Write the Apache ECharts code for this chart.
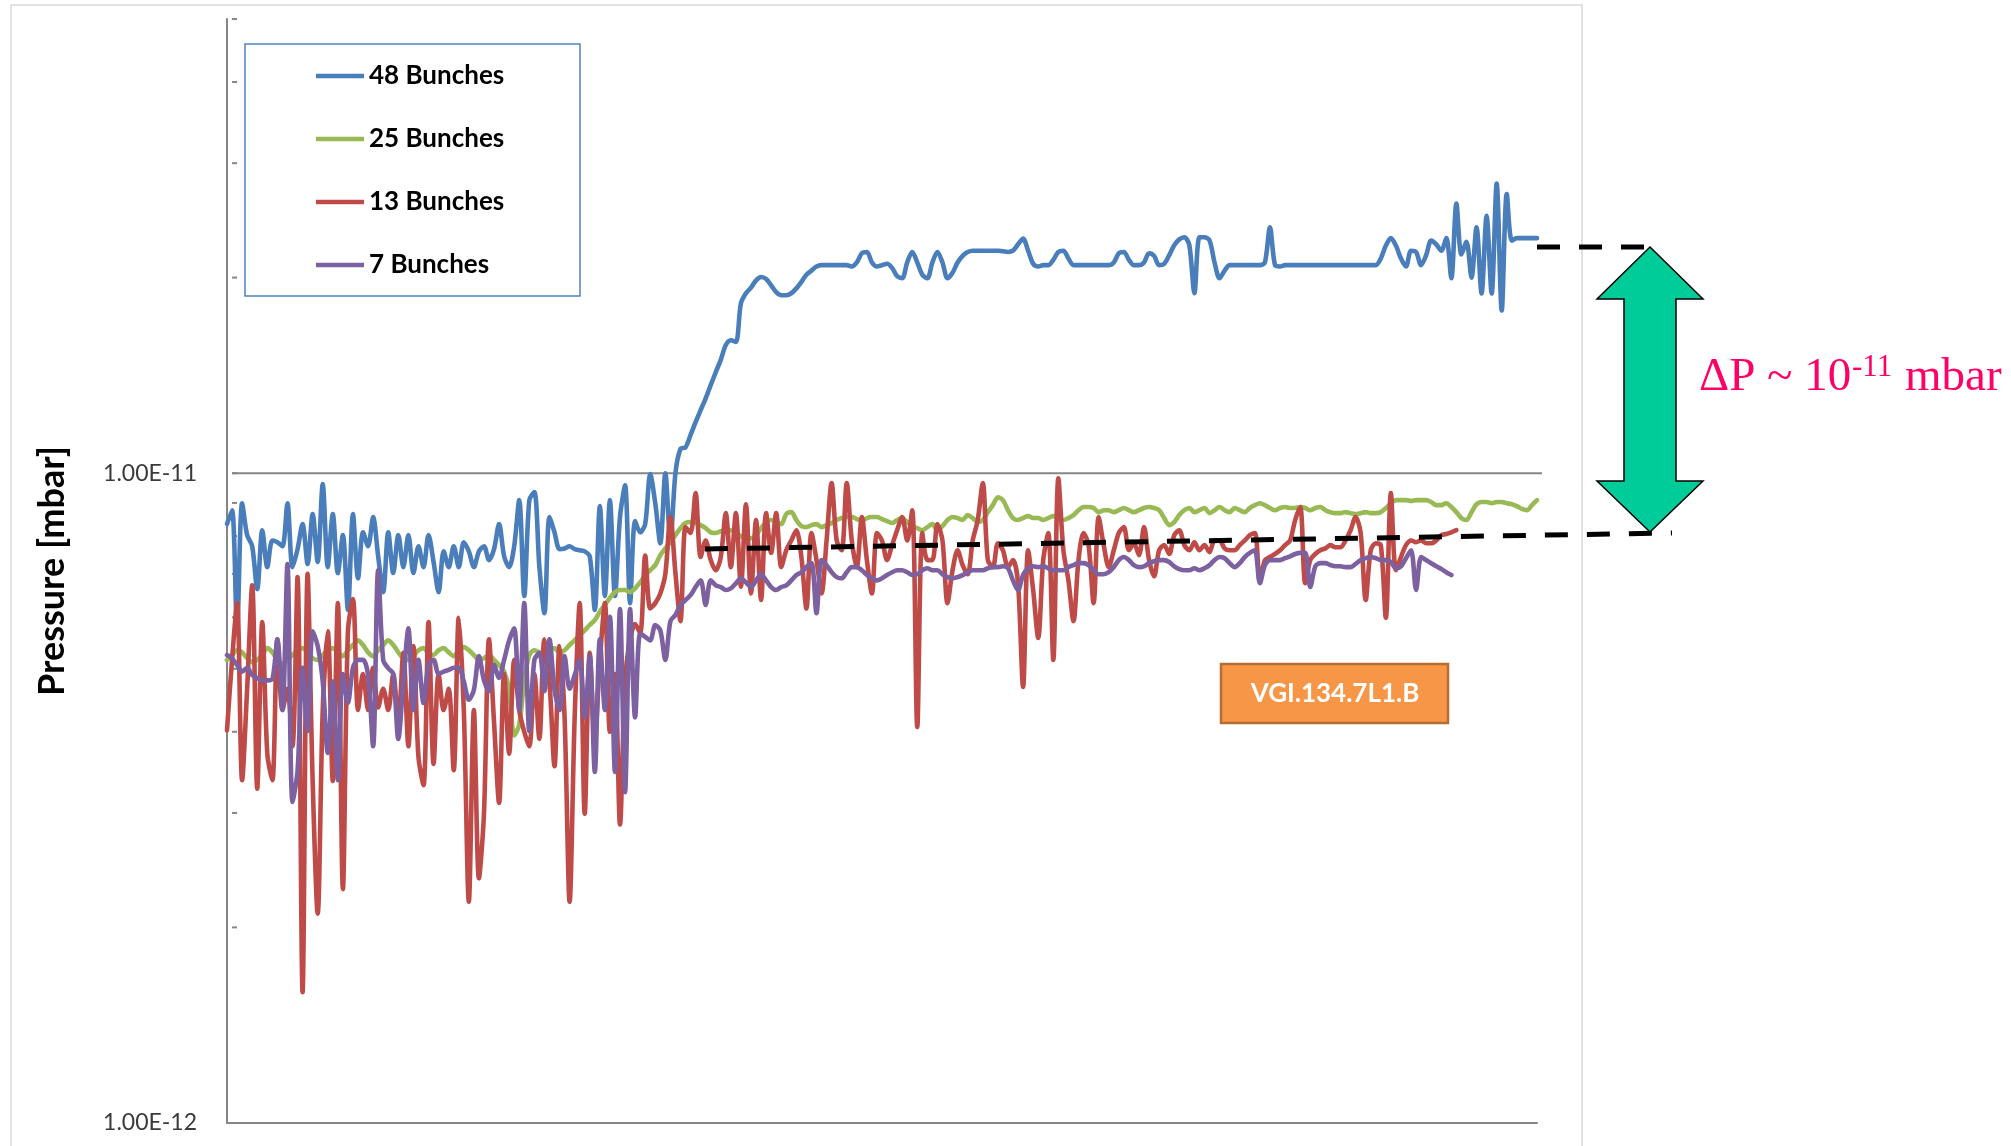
<!DOCTYPE html>
<html>
<head>
<meta charset="utf-8">
<script src="https://cdn.jsdelivr.net/npm/echarts@6/dist/echarts.min.js"></script>
<style>
  html, body { margin: 0; padding: 0; background: #ffffff; }
  #chart { width: 2011px; height: 1146px; }
</style>
</head>
<body>
<div id="chart"></div>
<script>
// Gauge VGI.134.7L1.B pressure readings, in units of 1e-12 mbar.
const seriesNames = ['48 Bunches', '25 Bunches', '13 Bunches', '7 Bunches'];
const seriesColors = ['#4A7EBB', '#98B954', '#BE4B48', '#7D60A0'];

const bunches48 = [
  8.35, 8.77, 5.75, 8.99, 8.03, 7.72, 6.63, 8.17, 7.17, 7.88,
  7.83, 7.72, 8.99, 7.17, 7.64, 8.35, 7.25, 8.65, 7.30, 9.62,
  7.17, 8.65, 7.02, 8.03, 6.16, 8.65, 6.89, 8.11, 7.72, 8.56,
  7.45, 6.56, 8.11, 7.02, 8.03, 7.17, 8.03, 7.02, 7.72, 7.17,
  8.03, 7.30, 6.56, 7.58, 7.17, 7.72, 7.17, 7.83, 7.58, 7.17,
  7.58, 7.72, 7.35, 7.64, 8.35, 7.45, 7.17, 7.72, 9.09, 6.47,
  9.09, 9.35, 7.17, 6.09, 8.56, 8.11, 7.64, 7.66, 7.72, 7.64,
  7.61, 7.58, 7.45, 6.16, 8.90, 6.47, 9.09, 6.47, 8.56, 9.58,
  6.31, 8.44, 8.11, 8.35, 9.97, 8.99, 7.80, 10.0, 7.88, 10.0,
  10.9, 10.96, 11.45, 11.98, 12.5, 13.04, 13.66, 14.3, 14.94, 15.75,
  16.02, 15.92, 18.26, 18.92, 19.3, 19.8, 20.04, 19.9, 19.46, 19.0,
  18.79, 18.79, 18.92, 19.25, 19.7, 20.2, 20.5, 20.8, 20.9, 20.9,
  20.9, 20.9, 20.9, 20.9, 20.8, 21.1, 21.8, 21.9, 21.1, 20.8,
  20.9, 21.0, 20.7, 20.1, 19.95, 21.1, 21.9, 21.1, 20.2, 19.95,
  21.1, 21.9, 21.1, 19.95, 20.35, 21.1, 21.6, 21.9, 22.0, 22.0,
  22.0, 22.0, 22.0, 22.0, 21.95, 21.9, 22.0, 22.5, 22.96, 22.0,
  21.0, 20.8, 20.9, 20.9, 21.3, 21.9, 22.0, 21.4, 20.9, 20.9,
  20.9, 20.9, 20.9, 20.9, 20.9, 20.9, 21.1, 21.8, 21.9, 21.3,
  20.9, 20.9, 21.1, 21.8, 21.6, 20.9, 21.0, 21.65, 22.43, 22.9,
  23.07, 22.43, 18.92, 23.07, 23.07, 22.83, 21.1, 19.95, 20.5, 20.9,
  20.9, 20.9, 20.9, 20.9, 20.9, 20.9, 21.1, 23.9, 20.9, 20.8,
  20.9, 20.9, 20.9, 20.9, 20.9, 20.9, 20.9, 20.9, 20.9, 20.9,
  20.9, 20.9, 20.9, 20.9, 20.9, 20.9, 20.9, 20.9, 20.9,
  21.4, 22.4, 23.0, 22.4, 21.4, 20.8, 22.0, 21.9, 20.9, 21.65, 22.8,
  22.5, 22.0, 23.0, 19.95, 26.0, 21.7, 22.7, 20.0, 23.9, 18.9,
  24.9, 18.9, 27.9, 17.8, 26.9, 22.8, 23.0, 23.0, 23.0, 23.0, 23.0
];

const bunches25 = [
  5.16, 5.25, 5.34, 5.30, 5.19, 5.12,
  5.16, 5.25, 5.38, 5.30, 5.16, 5.09, 5.16,
  5.25, 5.34, 5.38, 5.30, 5.19, 5.16, 5.25, 5.34,
  5.38, 5.30, 5.23, 5.34, 5.44, 5.53, 5.44,
  5.30, 5.23, 5.34, 5.44, 5.53, 5.44, 5.30, 5.19,
  5.16, 5.23, 5.34, 5.38, 5.28, 5.25, 5.34, 5.38, 5.30, 5.23,
  5.34, 5.40, 5.34, 5.25, 5.16, 5.19, 5.25, 5.16, 5.07, 4.95,
  4.64, 3.95, 4.10, 4.80, 5.25,
  5.34, 5.30, 5.25, 5.34, 5.38, 5.30, 5.34, 5.44, 5.53, 5.63,
  5.73, 5.84, 5.94, 6.12, 6.27, 6.43, 6.56, 6.61, 6.61, 6.56,
  6.65, 6.79, 6.97, 7.09, 7.22, 7.48, 7.66, 7.83, 8.03, 8.23,
  8.38, 8.41, 8.38, 8.32, 8.23, 8.11, 8.09, 8.14, 8.17, 8.17,
  8.09, 8.00, 7.94, 7.94, 8.03, 8.23, 8.41, 8.47, 8.41, 8.35,
  8.65, 8.71, 8.47, 8.29, 8.26, 8.32, 8.35, 8.26, 8.32, 8.38,
  8.47, 8.53, 8.56, 8.56, 8.50, 8.44, 8.53, 8.56, 8.56, 8.50,
  8.44, 8.38, 8.47, 8.53, 8.41, 8.29, 8.23, 8.17, 8.26, 8.35,
  8.17, 8.29, 8.47, 8.56, 8.53, 8.47, 8.62, 8.53, 8.41, 8.47,
  8.71, 8.93, 9.18, 9.09, 8.77, 8.53, 8.47, 8.53, 8.59, 8.53,
  8.53, 8.47, 8.53, 8.59, 8.53, 8.47, 8.53, 8.62, 8.77, 8.87,
  8.87, 8.84, 8.71, 8.77, 8.77, 8.71, 8.77, 8.84, 8.77, 8.71,
  8.77, 8.84, 8.87, 8.84, 8.77, 8.53, 8.32, 8.41, 8.62, 8.77,
  8.84, 8.71, 8.77, 8.84, 8.68, 8.77, 8.87, 8.77, 8.71, 8.84,
  8.77, 8.71, 8.84, 8.93, 8.99, 8.93, 8.84, 8.77, 8.84, 8.87,
  8.84, 8.84, 8.87, 8.84, 8.77, 8.84, 8.87, 8.77, 8.71, 8.68,
  8.68, 8.71, 8.68, 8.65, 8.68, 8.71, 8.68, 8.68, 8.71, 8.84,
  8.99, 9.09, 9.09, 9.09, 9.06, 9.09, 9.09, 9.09, 9.03, 8.93,
  8.93, 8.99, 8.87, 8.71, 8.53, 8.47, 8.71, 8.96, 9.03, 9.03,
  8.99, 9.03, 9.03, 8.99, 8.96, 8.90, 8.81, 8.77, 8.93, 9.09
];

const bunches13 = [
  4.02, 5.16, 6.31, 3.37, 4.66, 6.72, 3.27, 5.90, 3.70, 3.37,
  5.55, 4.32, 4.66, 3.80, 6.92, 1.59, 7.00, 3.36, 2.10, 4.32,
  5.71, 3.36, 6.31, 2.29, 5.71, 6.40, 4.32, 4.91, 4.32, 5.02,
  4.36, 4.66, 4.32, 4.91, 4.14, 5.29, 3.80, 5.42, 3.66, 3.31,
  5.90, 3.57, 4.91, 4.32, 4.66, 3.49, 5.99, 4.32, 2.19, 4.32,
  2.38, 2.99, 5.55, 4.14, 3.11, 4.91, 3.70, 5.16, 4.32, 4.00,
  3.80, 4.91, 3.90, 5.55, 4.78, 3.54, 5.42, 4.21, 2.19, 4.21,
  6.31, 2.99, 5.29, 3.90, 5.16, 6.31, 4.00, 4.91, 2.88, 4.78,
  5.55, 5.86, 5.67, 7.47, 6.19, 6.31, 6.53, 7.00, 8.56, 7.02,
  5.92, 8.26, 8.09, 9.32, 7.43, 7.88, 7.35, 7.09, 7.43, 8.68,
  7.17, 8.68, 6.69, 8.96, 6.53, 8.47, 6.38, 8.68, 7.54, 8.68,
  7.17, 7.61, 7.88, 8.17, 7.43, 6.19, 8.09, 7.35, 6.53, 7.88,
  9.66, 7.88, 7.61, 9.66, 7.88, 7.17, 8.56, 7.35, 6.53, 8.09,
  7.88, 7.35, 7.75, 8.17, 8.56, 7.88, 8.77, 4.07, 8.09, 7.35,
  7.35, 8.35, 7.88, 6.31, 7.09, 7.61, 7.22, 6.99, 7.88, 8.47,
  9.66, 7.35, 7.17, 7.80, 7.61, 7.17, 7.35, 6.77, 4.69, 7.61,
  6.61, 5.58, 7.35, 8.09, 5.16, 9.82, 7.61, 6.84, 5.92, 7.35,
  8.09, 7.75, 6.31, 8.56, 7.75, 7.17, 7.61, 8.09, 8.26, 7.61,
  7.80, 7.48, 8.26, 7.35, 6.94, 7.61, 7.75, 7.51, 8.03, 8.17,
  7.75, 7.61, 7.83, 7.61, 7.75, 7.56, 7.88, 7.88, 7.66, 7.61,
  7.61, 7.75, 7.88, 8.03, 8.09, 6.84, 7.35, 7.43, 7.51, 7.61,
  7.75, 7.88, 8.47, 8.87, 6.77, 7.35, 7.51, 7.61, 7.66, 7.75,
  7.69, 7.69, 7.88, 8.17, 8.56, 8.09, 6.38, 7.61, 7.80, 7.75,
  5.99, 9.32, 7.09, 7.43, 7.75, 7.88, 7.83, 7.88, 7.80, 7.80,
  7.88, 8.03, 8.06, 8.11, 8.17
];

const bunches7 = [
  5.25, 5.19, 5.07, 4.95, 5.02, 4.89, 4.84, 4.80, 4.80, 4.82,
  5.55, 4.32, 7.25, 3.12, 3.48, 5.02, 4.01, 5.71, 5.42, 4.78,
  3.71, 4.78, 3.37, 4.91, 4.43, 5.02, 5.16, 5.16, 4.89, 3.80,
  7.09, 5.16, 5.01, 4.91, 3.90, 4.78, 5.77, 4.32, 5.16, 4.43,
  5.07, 5.16, 4.91, 4.95, 4.98, 5.02, 5.02, 4.78, 4.48, 4.64,
  5.23, 4.80, 4.62, 5.07, 4.84, 5.16, 5.53, 5.77, 4.32, 6.31,
  4.01, 5.16, 5.29, 4.62, 5.55, 4.64, 4.32, 5.23, 4.66, 4.89,
  5.16, 4.21, 5.23, 3.47, 5.55, 4.32, 6.01, 3.47, 6.18, 3.23,
  6.18, 4.21, 5.67, 5.60, 5.53, 5.84, 5.73, 5.16, 5.92, 6.05,
  6.27, 6.38, 6.49, 6.68, 6.84, 6.27, 6.84, 6.72, 6.68, 6.61,
  6.65, 6.77, 6.89, 6.79, 6.68, 6.84, 6.99, 6.84, 6.68, 6.61,
  6.68, 6.72, 6.84, 6.97, 7.04, 7.17, 7.27, 6.09, 7.35, 7.22,
  7.04, 6.92, 6.89, 7.04, 7.17, 7.17, 7.09, 6.97, 6.89, 6.84,
  6.89, 6.97, 7.04, 7.09, 7.09, 7.04, 6.97, 6.99, 7.09, 7.14,
  7.09, 7.09, 6.99, 6.92, 6.89, 6.92, 6.97, 7.04, 7.09, 7.09,
  7.09, 7.14, 7.17, 7.17, 7.19, 7.14, 6.84, 6.61, 6.97, 7.14,
  7.19, 7.17, 7.19, 7.14, 7.09, 7.09, 7.09, 7.17, 7.22, 7.27,
  7.27, 7.22, 7.09, 6.99, 6.99, 7.04, 7.17, 7.35, 7.43, 7.35,
  7.22, 7.17, 7.19, 7.27, 7.32, 7.35, 7.35, 7.30, 7.19, 7.12,
  7.09, 7.09, 7.14, 7.09, 7.14, 7.22, 7.35, 7.43, 7.40, 7.27,
  7.17, 7.27, 7.43, 7.54, 7.61, 6.77, 7.22, 7.35, 7.35, 7.35,
  7.40, 7.45, 7.51, 7.54, 7.54, 6.68, 7.19, 7.27, 7.27, 7.22,
  7.19, 7.19, 7.17, 7.17, 7.25, 7.35, 7.40, 7.43, 7.40, 7.35,
  7.35, 7.30, 7.14, 7.19, 7.40, 7.61, 6.61, 7.43, 7.35, 7.27,
  7.19, 7.12, 7.04, 6.97
];

// Sample numbers along the (unlabelled) time axis
const samples = bunches48.map((_, i) => i + 1);

// Log-axis tick marks (1e-12 mbar units): minor ticks 2..9 per decade plus the major one
const tickValues = [2, 3, 4, 5, 6, 7, 8, 9, 10, 20, 30, 40, 50];
const gridValue = 10;

const seriesData = [bunches48, bunches25, bunches13, bunches7];

const chart = echarts.init(document.getElementById('chart'), null, { renderer: 'canvas' });

const axisGray = '#868686';

function formatPressure(v) {
  const e = Math.log10(v);
  if (Math.abs(e - Math.round(e)) > 1e-6) return '';
  return (v * 1e-12).toExponential(2).toUpperCase();
}

chart.setOption({
  animation: false,
  backgroundColor: '#ffffff',
  grid: { left: 227, right: 474, top: 19, bottom: 23, containLabel: false },
  legend: {
    orient: 'vertical',
    left: 316,
    top: 63,
    padding: 0,
    itemGap: 37,
    itemWidth: 48,
    itemHeight: 4.5,
    icon: 'rect',
    selectedMode: false,
    textStyle: { fontFamily: 'Lato', fontWeight: 'bold', fontSize: 26, color: '#000000' },
    data: seriesNames
  },
  xAxis: {
    type: 'category',
    data: samples,
    boundaryGap: false,
    axisLine: { show: true, lineStyle: { color: axisGray, width: 2 } },
    axisTick: { show: false },
    axisLabel: { show: false },
    splitLine: { show: false }
  },
  yAxis: {
    type: 'log',
    logBase: 10,
    min: 1,
    max: 50,
    name: 'Pressure [mbar]',
    nameLocation: 'middle',
    nameRotate: 90,
    nameGap: 157,
    nameTextStyle: { fontFamily: 'Lato', fontWeight: 'bold', fontSize: 36, color: '#000000' },
    axisLine: { show: true, lineStyle: { color: axisGray, width: 2 } },
    axisTick: { show: false },
    axisLabel: {
      margin: 30,
      fontFamily: 'Lato',
      fontSize: 23,
      color: '#3a3a3a',
      formatter: formatPressure
    },
    splitLine: { show: false }
  },
  series: seriesNames.map((name, k) => ({
    name: name,
    type: 'line',
    data: seriesData[k],
    symbol: 'none',
    showSymbol: false,
    smooth: 0.3,
    color: seriesColors[k],
    lineStyle: { width: 4.6, color: seriesColors[k], join: 'round', cap: 'round' },
    z: 2 + k
  }))
});

// Decorations placed from the axis scales once the grid is laid out
const xStart = chart.convertToPixel({ xAxisIndex: 0 }, samples[0]);
const xEnd = chart.convertToPixel({ xAxisIndex: 0 }, samples[samples.length - 1]);
const yGrid = chart.convertToPixel({ yAxisIndex: 0 }, gridValue);

const graphics = [];

// outer chart-area frame
graphics.push({
  type: 'rect', z: 0, silent: true,
  shape: { x: 11, y: 5, width: 1571, height: 1170 },
  style: { fill: null, stroke: '#d9d9d9', lineWidth: 1.5 }
});

// horizontal gridline at 1.00E-11
graphics.push({
  type: 'line', z: 1, silent: true,
  shape: { x1: xStart, y1: yGrid, x2: xEnd, y2: yGrid },
  style: { stroke: axisGray, lineWidth: 2 }
});

// inside tick marks on the pressure axis
tickValues.forEach(v => {
  const y = chart.convertToPixel({ yAxisIndex: 0 }, v);
  graphics.push({
    type: 'line', z: 1, silent: true,
    shape: { x1: xStart, y1: y, x2: xStart + 5, y2: y },
    style: { stroke: axisGray, lineWidth: 2 }
  });
});

// legend frame
graphics.push({
  type: 'rect', z: 3, silent: true,
  shape: { x: 245, y: 44, width: 335, height: 252 },
  style: { fill: '#ffffff', stroke: '#4F81BD', lineWidth: 1.5 }
});

// gauge name tag
graphics.push({
  type: 'rect', z: 20, silent: true,
  shape: { x: 1221, y: 664, width: 227, height: 59 },
  style: { fill: '#F79646', stroke: '#B66D31', lineWidth: 2.5 }
});
graphics.push({
  type: 'text', z: 21, silent: true,
  x: 1335, y: 694,
  style: {
    text: 'VGI.134.7L1.B', fill: '#ffffff',
    font: 'bold 26px Lato', align: 'center', verticalAlign: 'middle'
  }
});

// dashed guide lines marking the two pressure levels
graphics.push({
  type: 'line', z: 20, silent: true,
  shape: { x1: 1537, y1: 247, x2: 1650, y2: 247 },
  style: { stroke: '#000000', lineWidth: 5, lineDash: [23, 19] }
});
graphics.push({
  type: 'line', z: 20, silent: true,
  shape: { x1: 705, y1: 549, x2: 1672, y2: 533 },
  style: { stroke: '#000000', lineWidth: 5, lineDash: [23, 19] }
});

// double-headed arrow spanning the pressure rise
graphics.push({
  type: 'polygon', z: 22, silent: true,
  shape: {
    points: [
      [1650, 247], [1703, 299], [1676, 299], [1676, 481], [1703, 481],
      [1650, 532], [1597, 481], [1624, 481], [1624, 299], [1597, 299]
    ]
  },
  style: { fill: '#00CC99', stroke: '#000000', lineWidth: 1.5 }
});

// ΔP annotation
const annotFont = '"Liberation Serif", "Times New Roman", serif';
graphics.push({
  type: 'text', z: 22, silent: true, x: 1699, y: 378,
  style: { text: 'ΔP ~ 10', fill: '#FF0066', font: '47px ' + annotFont, align: 'left', verticalAlign: 'middle' }
});
graphics.push({
  type: 'text', z: 22, silent: true, x: 1852, y: 368,
  style: { text: '-11', fill: '#FF0066', font: '31px ' + annotFont, align: 'left', verticalAlign: 'middle' }
});
graphics.push({
  type: 'text', z: 22, silent: true, x: 1905, y: 378,
  style: { text: 'mbar', fill: '#FF0066', font: '47px ' + annotFont, align: 'left', verticalAlign: 'middle' }
});

chart.setOption({ graphic: { elements: graphics } });
</script>
</body>
</html>
